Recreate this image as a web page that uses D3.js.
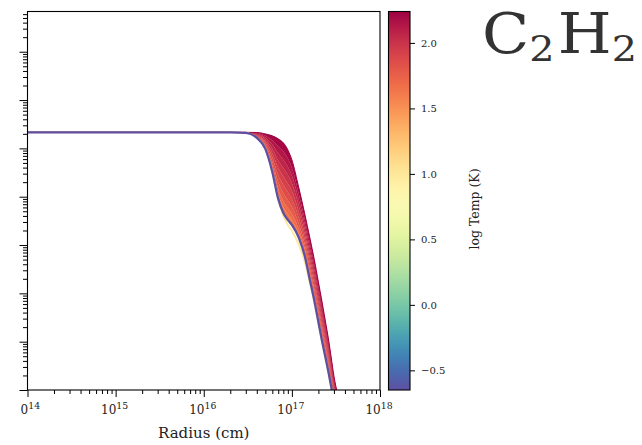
<!DOCTYPE html>
<html>
<head>
<meta charset="utf-8">
<script src="https://cdn.jsdelivr.net/npm/d3@7"></script>
<style>
  html, body { margin: 0; padding: 0; background: #fff; }
  svg { display: block; font-family: "DejaVu Serif", "Liberation Serif", serif; }
</style>
</head>
<body>
<svg id="chart" width="642" height="445"></svg>
<script>
// Radial grid (cm) shared by every model run
const radius = [1e14, 1e15, 1e16, 2e16, 3e16, 4e16, 5e16, 6e16, 7e16, 8e16, 9e16, 1e17,
                1.2e17, 1.4e17, 1.6e17, 1.8e17, 2e17, 2.2e17, 2.4e17, 2.6e17, 2.8e17, 3e17, 3.3e17];

// log10 fractional abundance of C2H2 for each run, labelled by log10 temperature (K)
const logX_T224 = [-4.668, -4.668, -4.668, -4.668, -4.668, -4.671, -4.700, -4.741, -4.803, -4.886, -5.031, -5.238,
                   -5.818, -6.356, -6.853, -7.309, -7.764, -8.178, -8.572, -8.944, -9.338, -9.710, -10.083];
const logX_T217 = [-4.668, -4.668, -4.668, -4.668, -4.669, -4.684, -4.737, -4.830, -4.952, -5.060, -5.205, -5.400,
                   -5.942, -6.460, -6.957, -7.410, -7.863, -8.275, -8.661, -9.027, -9.410, -9.772, -10.143];
const logX_T210 = [-4.668, -4.668, -4.668, -4.668, -4.671, -4.698, -4.774, -4.919, -5.102, -5.234, -5.379, -5.561,
                   -6.066, -6.565, -7.062, -7.511, -7.963, -8.373, -8.750, -9.108, -9.482, -9.834, -10.203];
const logX_T203 = [-4.668, -4.668, -4.668, -4.668, -4.672, -4.710, -4.812, -5.010, -5.251, -5.408, -5.553, -5.723,
                   -6.191, -6.669, -7.166, -7.615, -8.062, -8.468, -8.841, -9.191, -9.553, -9.897, -10.261];
const logX_T196 = [-4.668, -4.668, -4.668, -4.668, -4.673, -4.725, -4.849, -5.099, -5.400, -5.582, -5.727, -5.884,
                   -6.315, -6.774, -7.271, -7.716, -8.162, -8.565, -8.930, -9.271, -9.625, -9.959, -10.321];
const logX_T189 = [-4.668, -4.668, -4.668, -4.668, -4.675, -4.737, -4.886, -5.188, -5.549, -5.756, -5.901, -6.046,
                   -6.439, -6.878, -7.375, -7.818, -8.261, -8.663, -9.019, -9.354, -9.698, -10.021, -10.381];
const logX_T182 = [-4.668, -4.668, -4.668, -4.668, -4.676, -4.752, -4.923, -5.278, -5.698, -5.930, -6.075, -6.207,
                   -6.563, -6.981, -7.478, -7.919, -8.360, -8.760, -9.108, -9.437, -9.770, -10.083, -10.441];
const logX_T174 = [-4.668, -4.668, -4.668, -4.668, -4.677, -4.764, -4.958, -5.360, -5.834, -6.089, -6.234, -6.356,
                   -6.677, -7.079, -7.576, -8.012, -8.451, -8.849, -9.191, -9.511, -9.837, -10.140, -10.495];
const logX_T164 = [-4.668, -4.668, -4.668, -4.668, -4.679, -4.774, -4.986, -5.427, -5.946, -6.220, -6.364, -6.476,
                   -6.770, -7.155, -7.652, -8.089, -8.526, -8.921, -9.257, -9.574, -9.890, -10.186, -10.540];
const logX_T100 = [-4.668, -4.668, -4.668, -4.668, -4.679, -4.783, -5.010, -5.487, -6.056, -6.398, -6.584, -6.708,
                   -6.998, -7.350, -7.785, -8.178, -8.613, -9.006, -9.338, -9.648, -9.959, -10.249, -10.600];
const logX_Tm065 = [-4.668, -4.668, -4.668, -4.668, -4.679, -4.783, -5.010, -5.487, -6.046, -6.335, -6.480, -6.584,
                    -6.853, -7.226, -7.723, -8.157, -8.592, -8.986, -9.317, -9.627, -9.938, -10.228, -10.580];

const logT = [2.24, 2.17, 2.10, 2.03, 1.96, 1.89, 1.82, 1.74, 1.64, 1.00, -0.65];
const runs = [logX_T224, logX_T217, logX_T210, logX_T203, logX_T196, logX_T189,
              logX_T182, logX_T174, logX_T164, logX_T100, logX_Tm065];

// Axis settings
const xDomain = [1e14, 1e18];
const yDomain = [1e-10, 6.8e-3];
const xMajorTicks = [1e14, 1e15, 1e16, 1e17, 1e18];
const cbarTicks = [-0.5, 0.0, 0.5, 1.0, 1.5, 2.0];

const title = { main1: "C", sub1: "2", main2: "H", sub2: "2" };
const xLabel = "Radius (cm)";
const cbarLabel = "log Temp (K)";

// ---------------------------------------------------------------
const svg = d3.select("#chart");
const box = { left: 27.5, right: 380, top: 11.5, bottom: 390 };

const x = d3.scaleLog().domain(xDomain).range([box.left, box.right]);
const y = d3.scaleLog().domain(yDomain).range([box.bottom, box.top]);

const [tMin, tMax] = d3.extent(logT);
const color = v => d3.interpolateSpectral(1 - (v - tMin) / (tMax - tMin));

const defs = svg.append("defs");
defs.append("clipPath").attr("id", "plotClip").append("rect")
  .attr("x", box.left).attr("y", box.top)
  .attr("width", box.right - box.left).attr("height", box.bottom - box.top);
defs.append("clipPath").attr("id", "pageClip").append("rect")
  .attr("x", 19.8).attr("y", 0).attr("width", 622).attr("height", 445);

const series = logT.map((t, k) => ({
  t,
  pts: runs[k].map((v, i) => ({ r: radius[i], a: Math.pow(10, v) }))
}));
series.sort((a, b) => b.t - a.t);

const plotG = svg.append("g").attr("clip-path", "url(#plotClip)");

// Filled band between neighbouring warm runs
const band = series.filter(s => s.t >= 1.5);
const coldest = series[series.length - 1];
const bandPairs = band.map((s, k) => [s, k + 1 < band.length ? band[k + 1] : coldest]);
bandPairs.forEach(([outer, inner]) => {
  const area = d3.area()
    .x((d, i) => x(outer.pts[i].r))
    .y0((d, i) => y(inner.pts[i].a))
    .y1((d, i) => y(outer.pts[i].a))
    .curve(d3.curveMonotoneX);
  plotG.append("path")
    .attr("d", area(outer.pts))
    .attr("fill", color(inner === coldest ? outer.t : (outer.t + inner.t) / 2))
    .attr("stroke", "none");
});

// One line per run, warmest first so the coldest sits on top
const line = d3.line().x(d => x(d.r)).y(d => y(d.a)).curve(d3.curveMonotoneX);
series.forEach(s => {
  const w = s.t >= 1.5 ? (s.t === tMax ? 1.0 : 0.4) : (s.t > 0 ? 1.8 : 2.3);
  plotG.append("path")
    .attr("d", line(s.pts))
    .attr("fill", "none")
    .attr("stroke", color(s.t))
    .attr("stroke-width", w)
    .attr("stroke-linejoin", "round");
});

// Axes
const xTicksAll = x.ticks();
const xMinor = xTicksAll.filter(v => !xMajorTicks.includes(v));
const yTicksAll = y.ticks();
const isDecade = v => Math.abs(Math.log10(v) - Math.round(Math.log10(v))) < 1e-6;
const yMajor = yTicksAll.filter(isDecade);
const yMinor = yTicksAll.filter(v => !isDecade(v));

function styleAxis(g) {
  g.select(".domain").remove();
  g.selectAll(".tick line").attr("stroke", "#000").attr("stroke-width", 1);
  g.selectAll(".tick text").remove();
}

svg.append("g").attr("transform", `translate(0,${box.bottom})`)
  .call(d3.axisBottom(x).tickValues(xMajorTicks).tickSize(7)).call(styleAxis);
svg.append("g").attr("transform", `translate(0,${box.bottom})`)
  .call(d3.axisBottom(x).tickValues(xMinor).tickSize(4)).call(styleAxis);
svg.append("g").attr("transform", `translate(${box.left},0)`)
  .call(d3.axisLeft(y).tickValues(yMajor).tickSize(8)).call(styleAxis);
svg.append("g").attr("transform", `translate(${box.left},0)`)
  .call(d3.axisLeft(y).tickValues(yMinor).tickSize(4.5)).call(styleAxis);

// Frame
svg.append("rect")
  .attr("x", box.left).attr("y", box.top)
  .attr("width", box.right - box.left).attr("height", box.bottom - box.top)
  .attr("fill", "none").attr("stroke", "#000").attr("stroke-width", 1.1);

// X tick labels as powers of ten
const xLab = svg.append("g").attr("clip-path", "url(#pageClip)");
xMajorTicks.forEach(v => {
  const t = xLab.append("text")
    .attr("x", x(v) - 1).attr("y", 414)
    .attr("text-anchor", "middle")
    .attr("font-size", 12).attr("fill", "#222");
  t.append("tspan").text("10");
  t.append("tspan").attr("dy", -5.5).attr("font-size", 9.3).text(String(Math.round(Math.log10(v))));
});

svg.append("text")
  .attr("x", (box.left + box.right) / 2).attr("y", 438)
  .attr("text-anchor", "middle").attr("font-size", 15).attr("fill", "#222")
  .text(xLabel);

// Colour bar
const cb = { left: 388.5, right: 410, top: 11.5, bottom: 390 };
const cy = d3.scaleLinear().domain([tMin, tMax]).range([cb.bottom, cb.top]);
const grad = defs.append("linearGradient").attr("id", "cbarGrad")
  .attr("x1", 0).attr("y1", 1).attr("x2", 0).attr("y2", 0);
d3.range(0, 1.0001, 0.02).forEach(p => {
  grad.append("stop").attr("offset", p).attr("stop-color", color(tMin + p * (tMax - tMin)));
});
svg.append("rect")
  .attr("x", cb.left).attr("y", cb.top)
  .attr("width", cb.right - cb.left).attr("height", cb.bottom - cb.top)
  .attr("fill", "url(#cbarGrad)").attr("stroke", "#000").attr("stroke-width", 1.1);

const cAxis = svg.append("g").attr("transform", `translate(${cb.right},0)`)
  .call(d3.axisRight(cy).tickValues(cbarTicks).tickSize(5).tickPadding(6)
    .tickFormat(d => (d < 0 ? "\u2212" : "") + Math.abs(d).toFixed(1)));
cAxis.select(".domain").remove();
cAxis.selectAll(".tick line").attr("stroke", "#000");
cAxis.selectAll(".tick text")
  .attr("font-family", "DejaVu Serif, serif").attr("font-size", 10).attr("fill", "#222");

svg.append("text")
  .attr("transform", "translate(474,209) rotate(-90)")
  .attr("text-anchor", "middle").attr("dominant-baseline", "central")
  .attr("font-size", 12.5).attr("fill", "#222")
  .text(cbarLabel);

// Species name
const titleText = svg.append("text")
  .attr("x", 482).attr("y", 53)
  .attr("font-size", 56).attr("fill", "#333");
titleText.append("tspan").text(title.main1);
titleText.append("tspan").attr("dy", 8.5).attr("font-size", 36).text(title.sub1);
titleText.append("tspan").attr("dy", -8.5).attr("dx", 3).text(title.main2);
titleText.append("tspan").attr("dy", 8.5).attr("font-size", 36).text(title.sub2);
const tw = titleText.node().getBBox().width;
const sx = 155 / tw;
titleText.attr("transform", `translate(482,0) scale(${sx},1) translate(-482,0)`);
</script>
</body>
</html>
